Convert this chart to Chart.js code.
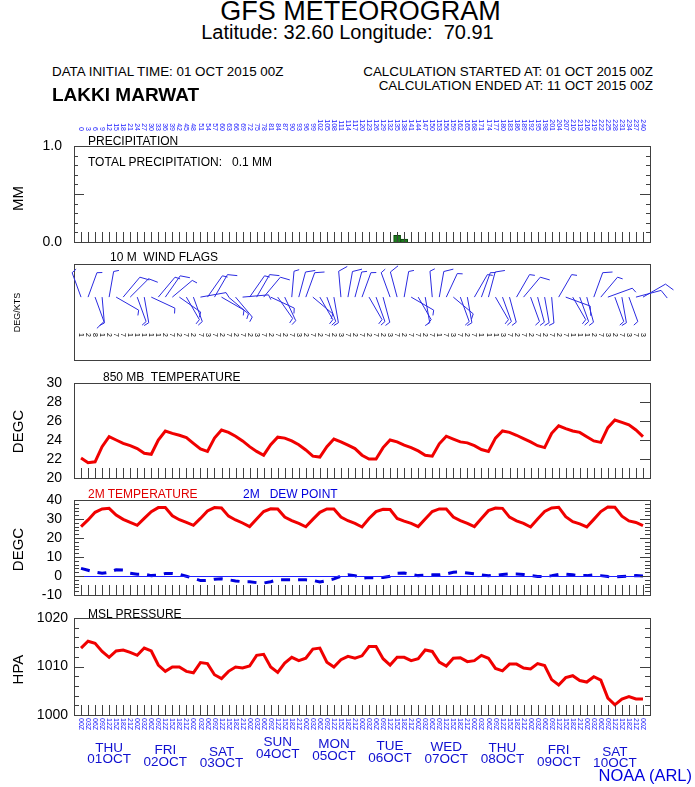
<!DOCTYPE html>
<html>
<head>
<meta charset="utf-8">
<title>GFS Meteorogram - Lakki Marwat</title>
<script src="https://cdn.jsdelivr.net/npm/chart.js@4.4.1/dist/chart.umd.min.js"></script>
<style>
  body { margin: 0; background: #fff; }
  #page { position: relative; width: 695px; height: 787px; overflow: hidden; font-family: 'Liberation Sans', Arial, sans-serif; }
  #page canvas { position: absolute; left: 0; }
  .t { position: absolute; white-space: pre; line-height: 1; color: #000; z-index: 2; }
  .yt { position: absolute; width: 120px; left: -43px; text-align: center; line-height: 1; transform: rotate(-90deg); z-index: 2; }
</style>
</head>
<body>
<div id="page">
  <canvas id="cPrecip" width="695" height="150" style="top:100px"></canvas>
  <canvas id="cWind" width="695" height="120" style="top:250px"></canvas>
  <canvas id="c850" width="695" height="118" style="top:370px"></canvas>
  <canvas id="c2m" width="695" height="117" style="top:488px"></canvas>
  <canvas id="cMsl" width="695" height="182" style="top:605px"></canvas>

  <div class="t" style="left:13px;width:695px;text-align:center;top:-2.5px;font-size:27px">GFS METEOROGRAM</div>
  <div class="t" style="left:0;width:695px;text-align:center;top:22.4px;font-size:20px">Latitude: 32.60 Longitude:  70.91</div>
  <div class="t" style="left:52px;top:65.3px;font-size:13.4px">DATA INITIAL TIME: 01 OCT 2015 00Z</div>
  <div class="t" style="right:42px;top:65.3px;font-size:13.4px">CALCULATION STARTED AT: 01 OCT 2015 00Z</div>
  <div class="t" style="right:42px;top:79.3px;font-size:13.4px">CALCULATION ENDED AT: 11 OCT 2015 00Z</div>
  <div class="t" style="left:52px;top:84.5px;font-size:19px;font-weight:bold">LAKKI MARWAT</div>

  <div class="t" style="left:88px;top:135.4px;font-size:12px">PRECIPITATION</div>
  <div class="t" style="left:88px;top:156.4px;font-size:12px">TOTAL PRECIPITATION:   0.1 MM</div>
  <div class="t" style="left:110px;top:251.4px;font-size:12px">10 M  WIND FLAGS</div>
  <div class="t" style="left:103px;top:371.4px;font-size:12px">850 MB  TEMPERATURE</div>
  <div class="t" style="left:88px;top:488.4px;font-size:12px;color:#e00000">2M TEMPERATURE</div>
  <div class="t" style="left:243px;top:488.4px;font-size:12px;color:#0000dd">2M   DEW POINT</div>
  <div class="t" style="left:88px;top:608.4px;font-size:12px">MSL PRESSURE</div>

  <div class="yt" style="top:191px;font-size:15px">MM</div>
  <div class="yt" style="top:308px;font-size:9px">DEG/KTS</div>
  <div class="yt" style="top:424px;font-size:15px">DEGC</div>
  <div class="yt" style="top:542px;font-size:15px">DEGC</div>
  <div class="yt" style="top:662px;font-size:15px">HPA</div>

  <div class="t" style="right:3px;top:767px;font-size:16.5px;color:#0000dd">NOAA (ARL)</div>
</div>

<script>
// forecast hours (3-hourly, 01 OCT 2015 00Z + h)
const hours = [0,3,6,9,12,15,18,21,24,27,30,33,36,39,42,45,48,51,54,57,60,63,66,69,72,75,78,81,
  84,87,90,93,96,99,102,105,108,111,114,117,120,123,126,129,132,135,138,141,144,147,150,153,156,
  159,162,165,168,171,174,177,180,183,186,189,192,195,198,201,204,207,210,213,216,219,222,225,228,
  231,234,237,240];

// precipitation (mm per 3 h)
const precipHours = [135, 138];
const precipMm = [0.07, 0.03];

// 850 mb temperature (C)
const t850 = [22.1,21.6,21.7,23.3,24.35,24.0,23.65,23.4,23.1,22.6,
  22.5,24.0,24.95,24.7,24.5,24.25,23.65,23.05,22.8,24.2,
  25.05,24.8,24.4,23.9,23.3,22.8,22.4,23.5,24.3,24.2,
  23.9,23.5,22.95,22.3,22.2,23.3,24.1,23.8,23.45,23.1,
  22.4,22.0,22.0,23.2,24.0,23.8,23.45,23.2,22.85,22.4,
  22.3,23.6,24.4,24.1,23.8,23.7,23.4,23.0,22.8,24.2,
  24.95,24.8,24.5,24.15,23.8,23.4,23.2,24.7,25.5,25.2,
  24.95,24.8,24.35,23.9,23.75,25.3,26.1,25.85,25.6,25.05,
  24.35];

// 2 m temperature (C)
const t2m = [26,29.5,33.5,35.3,35.6,32.1,29.8,28.2,26.7,30.3,
  33.9,36,36,31.7,29.6,28.2,26.7,30.3,34.2,36,
  35.8,31.5,29.5,27.9,26,30,33.9,35.4,35.3,31,
  29.2,27.7,25.9,29.8,33.5,35.3,35.3,31,29.1,27.7,
  25.8,30.3,33.9,35.1,35,30.3,28.9,27.7,26,30,
  33.9,35.3,35.3,31,29.2,27.7,26,30.3,34.4,35.8,
  35.6,31,29,27.7,25.8,30,34,35.8,36.2,31.2,
  28.6,27.4,25.8,29.8,33.9,36.3,36.2,31.5,29,28.2,
  26.5];

// 2 m dew point (C)
const td2m = [4,3,2,1.4,2,3.3,3.1,1.4,0.9,0.9,
  0.2,0.4,1.3,1.3,0.9,-0.1,-1.2,-2.4,-2.3,-1.7,
  -1.5,-2,-2.6,-3,-3,-3.5,-3.7,-3,-2,-2,
  -2,-2,-2,-2.3,-3.2,-2.4,-1.5,-0.1,0.6,0.2,
  -1.2,-0.8,-0.9,-0.8,-0.1,1.4,1.6,0.9,0.2,0.4,
  0.6,0.6,1.1,2,2.1,1.6,1.1,0.6,0.1,0.4,
  0.8,1.1,1.1,0.8,0.2,-0.2,-0.3,0.2,0.8,1,
  0.6,0.2,0.2,0.6,0.2,-0.3,-0.5,-0.2,0,0.2,
  0];

// mean sea level pressure (hPa)
const mslp = [1013.8,1015.2,1014.8,1013.1,1011.9,1013.2,1013.4,1012.9,1012.3,1013.8,
  1013.2,1010.3,1009.0,1009.9,1009.9,1009.0,1008.7,1010.8,1010.6,1008.3,
  1007.5,1009.0,1009.9,1009.7,1010.1,1012.3,1012.5,1009.9,1008.8,1010.7,
  1011.9,1011.2,1011.7,1013.6,1013.8,1010.9,1009.9,1011.4,1012.1,1011.7,
  1012.2,1014.1,1014.1,1011.6,1010.3,1011.9,1011.9,1011.2,1011.6,1013.4,
  1013.1,1010.9,1010.1,1011.7,1011.8,1011.0,1011.2,1012.3,1011.7,1009.6,
  1009.1,1010.5,1010.5,1009.7,1009.5,1010.6,1010.2,1007.3,1006.2,1007.7,
  1008.1,1007.1,1006.8,1007.9,1007.2,1003.5,1002.1,1003.3,1003.8,1003.3,
  1003.3];

// 10 m wind: direction (deg, from), speed (kt), and the printed speed row
const windDir = [340,20,160,175,10,120,40,45,160,170,
  115,40,35,50,125,150,160,80,35,30,
  120,130,140,85,35,30,40,115,145,155,
  5,15,20,130,150,160,170,355,10,15,
  20,150,160,165,340,345,10,120,150,170,
  355,10,25,130,160,170,30,20,15,150,
  160,165,30,40,160,165,170,175,30,110,
  150,160,165,20,40,70,160,170,160,75,
  60];
const windKt = [8,9,10,8,7,9,10,10,8,7,
  7,9,10,9,8,8,7,6,9,10,
  9,8,8,7,9,10,10,9,8,8,
  9,10,10,9,8,8,9,10,10,9,
  8,8,7,7,9,10,9,8,8,7,
  9,10,9,8,7,7,8,9,10,8,
  8,7,9,10,8,8,7,7,9,10,
  8,8,9,10,9,8,8,7,9,10,
  11];
const windRow = [1,2,8,1,2,7,7,1,1,1,
  1,1,2,7,2,7,2,7,3,7,
  2,7,2,7,2,3,7,2,7,2,
  7,3,2,7,2,7,2,3,7,2,
  7,2,7,2,3,7,2,7,7,2,
  7,1,7,3,7,2,7,1,1,1,
  3,7,2,7,2,7,2,7,2,7,
  1,1,1,2,7,3,2,7,3,7,
  3];

// day labels under the chart
const dayHours = [12,36,60,84,108,132,156,180,204,228];
const dayNames = ['THU','FRI','SAT','SUN','MON','TUE','WED','THU','FRI','SAT'];
const dayDates = ['01OCT','02OCT','03OCT','04OCT','05OCT','06OCT','07OCT','08OCT','09OCT','10OCT'];
// vertical placement of the day names (canvas px from MSL canvas top)
const dayNameY = [143,145.5,147,137.5,139.5,141.5,142.5,143,145.5,147];

document.addEventListener("DOMContentLoaded", function () {
    Chart.defaults.font.family = "'Liberation Sans', Arial, sans-serif";
    Chart.defaults.font.size = 14;
    Chart.defaults.color = '#000';
    Chart.defaults.animation = false;

    const RED = '#f00000';
    const BLUE = '#0000dd';

    function pts(vals) {
        return hours.map((h, i) => ({ x: h, y: vals[i] }));
    }

    // 1. Frame, inward ticks, bottom hour ticks, zero line
    const framePlugin = {
        id: 'meteoFrame',
        afterDatasetsDraw(chart, args, o) {
            const ctx = chart.ctx;
            const a = chart.chartArea;
            const ys = chart.scales.y, xs = chart.scales.x;
            ctx.save();
            ctx.strokeStyle = '#404040';
            ctx.lineWidth = 1;
            if (o.zeroLine) {
                const y0 = Math.round(ys.getPixelForValue(0)) + 0.5;
                ctx.strokeStyle = '#2020ff';
                ctx.beginPath(); ctx.moveTo(a.left, y0); ctx.lineTo(a.right, y0); ctx.stroke();
                ctx.strokeStyle = '#404040';
            }
            ctx.beginPath();
            if (o.step) {
                for (let v = ys.min; v <= ys.max + 1e-6; v += o.step) {
                    const y = Math.round(ys.getPixelForValue(v)) + 0.5;
                    const major = o.major && Math.abs(v / o.major - Math.round(v / o.major)) < 1e-6;
                    const len = major ? 10 : o.minorLen;
                    if (o.left) { ctx.moveTo(a.left, y); ctx.lineTo(a.left + len, y); }
                    if (o.right) { ctx.moveTo(a.right, y); ctx.lineTo(a.right - len, y); }
                }
            }
            if (o.bottomTicks) {
                hours.forEach(h => {
                    const x = Math.round(xs.getPixelForValue(h)) + 0.5;
                    ctx.moveTo(x, a.bottom); ctx.lineTo(x, a.bottom - 10);
                });
            }
            ctx.stroke();
            ctx.strokeRect(Math.round(a.left) + 0.5, Math.round(a.top) + 0.5,
                Math.round(a.right - a.left), Math.round(a.bottom - a.top));
            ctx.restore();
        }
    };

    // fixed-width left axis; label padding must not push the plot area
    function yAxis(min, max, labels, pad, fmt) {
        return {
            min: min, max: max,
            afterBuildTicks: s => { s.ticks = labels.map(v => ({ value: v })); },
            afterFit: s => { s.width = 74; s.paddingTop = 0; s.paddingBottom = 0; },
            grid: { display: false, drawTicks: false },
            border: { display: false },
            ticks: { padding: pad, autoSkip: false, callback: fmt || (v => v) }
        };
    }

    const xAxis = {
        type: 'linear', min: -3, max: 243, display: false, offset: false,
        grid: { offset: false }, ticks: { stepSize: 24 }
    };

    function lineSet(vals, color, dash) {
        return {
            data: pts(vals), borderColor: color, borderWidth: 3, borderDash: dash || [],
            pointRadius: 0, tension: 0, fill: false
        };
    }

    function makeChart(id, type, datasets, y, pad, frame, extra) {
        return new Chart(document.getElementById(id), {
            type: type,
            data: { datasets: datasets },
            options: {
                responsive: false,
                layout: { padding: pad },
                plugins: { legend: { display: false }, tooltip: { enabled: false }, meteoFrame: frame },
                scales: { x: xAxis, y: y }
            },
            plugins: [framePlugin].concat(extra || [])
        });
    }

    // 2. Forecast hour labels above the precipitation panel
    const hourLabels = {
        id: 'hourLabels',
        afterDraw(chart) {
            const ctx = chart.ctx, xs = chart.scales.x;
            ctx.save();
            ctx.fillStyle = '#2020ff';
            ctx.font = "7px 'Liberation Sans', Arial, sans-serif";
            ctx.textAlign = 'right';
            ctx.textBaseline = 'middle';
            hours.forEach(h => {
                ctx.save();
                ctx.translate(xs.getPixelForValue(h), 31);
                ctx.rotate(Math.PI / 2);
                ctx.fillText(String(h), 0, 0);
                ctx.restore();
            });
            ctx.restore();
        }
    };

    makeChart('cPrecip', 'bar', [{
        data: precipHours.map((h, i) => ({ x: h, y: precipMm[i] })),
        backgroundColor: '#1d7a1d', borderColor: '#0a4a0a', borderWidth: 1,
        barPercentage: 1, categoryPercentage: 1
    }], yAxis(0, 1, [0, 1], 12, v => v.toFixed(1)),
        { top: 46, bottom: 8, left: 0, right: 45 },
        { step: 0.1, major: 0.5, minorLen: 4, left: true, right: true, bottomTicks: true },
        [hourLabels]);

    // 3. Wind barbs
    const windPlugin = {
        id: 'windBarbs',
        afterDraw(chart) {
            const ctx = chart.ctx, xs = chart.scales.x, ys = chart.scales.y;
            const yBase = ys.getPixelForValue(0.655);
            const yRow = ys.getPixelForValue(0.26);
            ctx.save();
            ctx.strokeStyle = '#2a2ae0';
            ctx.lineWidth = 1;
            hours.forEach((h, i) => {
                const x = xs.getPixelForValue(h);
                const r = windDir[i] * Math.PI / 180;
                const dx = Math.sin(r), dy = -Math.cos(r);
                const px = -dy, py = dx; // clockwise side
                const len = 26;
                ctx.beginPath();
                ctx.moveTo(x, yBase);
                ctx.lineTo(x + dx * len, yBase + dy * len);
                let rem = windKt[i], pos = len;
                while (rem >= 10) {
                    const sx = x + dx * pos, sy = yBase + dy * pos;
                    ctx.moveTo(sx, sy);
                    ctx.lineTo(sx + px * 9 + dx * 4, sy + py * 9 + dy * 4);
                    rem -= 10; pos -= 4;
                }
                if (rem >= 5) {
                    const sx = x + dx * pos, sy = yBase + dy * pos;
                    ctx.moveTo(sx, sy);
                    ctx.lineTo(sx + px * 5 + dx * 2, sy + py * 5 + dy * 2);
                }
                ctx.stroke();
            });
            // printed speeds
            ctx.fillStyle = '#000';
            ctx.font = "7px 'Liberation Sans', Arial, sans-serif";
            ctx.textAlign = 'center';
            ctx.textBaseline = 'middle';
            hours.forEach((h, i) => {
                ctx.save();
                ctx.translate(xs.getPixelForValue(h), yRow);
                ctx.rotate(Math.PI / 2);
                ctx.fillText(String(windRow[i]), 0, 0);
                ctx.restore();
            });
            ctx.restore();
        }
    };

    makeChart('cWind', 'line', [], { min: 0, max: 1, display: false },
        { top: 14, bottom: 10, left: 74, right: 45 },
        { step: 0 }, [windPlugin]);

    // 4. 850 mb temperature
    makeChart('c850', 'line', [lineSet(t850, RED)],
        yAxis(20, 30, [20, 22, 24, 26, 28, 30], 12),
        { top: 13, bottom: 10, left: 0, right: 45 },
        { step: 2, major: 2, minorLen: 8, left: false, right: true, bottomTicks: true });

    // 5. 2 m temperature and dew point
    makeChart('c2m', 'line', [lineSet(t2m, RED), lineSet(td2m, BLUE, [9, 8])],
        yAxis(-10, 40, [-10, 0, 10, 20, 30, 40], 12),
        { top: 12, bottom: 10, left: 0, right: 45 },
        { step: 2, major: 10, minorLen: 5, left: true, right: true, bottomTicks: true, zeroLine: true });

    // 6. MSL pressure + time labels
    const timeLabels = {
        id: 'timeLabels',
        afterDraw(chart) {
            const ctx = chart.ctx, xs = chart.scales.x;
            ctx.save();
            ctx.fillStyle = '#2020ff';
            ctx.font = "7px 'Liberation Sans', Arial, sans-serif";
            ctx.textAlign = 'left';
            ctx.textBaseline = 'middle';
            hours.forEach(h => {
                const hh = h % 24;
                ctx.save();
                ctx.translate(xs.getPixelForValue(h), 113);
                ctx.rotate(Math.PI / 2);
                ctx.fillText((hh < 10 ? '0' : '') + hh + 'Z', 0, 0);
                ctx.restore();
            });
            ctx.fillStyle = '#1010d0';
            ctx.font = "13.5px 'Liberation Sans', Arial, sans-serif";
            ctx.textAlign = 'center';
            dayHours.forEach((h, i) => {
                const x = xs.getPixelForValue(h);
                ctx.fillText(dayNames[i], x, dayNameY[i]);
                ctx.fillText(dayDates[i], x, dayNameY[i] + 11.5);
            });
            ctx.restore();
        }
    };

    makeChart('cMsl', 'line', [lineSet(mslp, RED)],
        yAxis(1000, 1020, [1000, 1010, 1020], 6),
        { top: 13, bottom: 72, left: 0, right: 45 },
        { step: 2, major: 10, minorLen: 5, left: true, right: true, bottomTicks: true },
        [timeLabels]);
});
</script>
</body>
</html>
